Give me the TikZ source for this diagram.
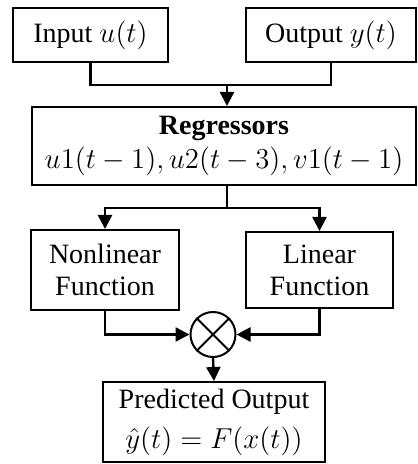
\documentclass[tikz,border=0pt]{standalone}
\usepackage{amsmath}
\usepackage{fontspec}
\setmainfont{Liberation Serif}
\usetikzlibrary{arrows.meta}
\usetikzlibrary{calc}

\tikzset{
blk/.style={draw, line width=1pt, align=center, inner sep=0pt, font=\fontsize{14}{16}\selectfont},
con/.style={line width=1.2pt},
arr/.style={con, -{Triangle[length=7pt,width=7pt]}}
}

\begin{document}
\begin{tikzpicture}[x=0.5pt,y=-0.5pt]
\useasboundingbox (0,0) rectangle (417,464);

\node[blk, minimum width=77.5pt, minimum height=27pt] (in) at (90.5,35) {Input \(u(t)\)};
\node[blk, minimum width=85pt, minimum height=27pt] (out) at (331,35) {Output \(y(t)\)};
\node[blk, minimum width=192pt, minimum height=39pt] (reg) at (224,146) {\textbf{Regressors}\\[1pt]\fontsize{15.5}{17}\selectfont\(u1(t-1), u2(t-3), v1(t-1)\)};
\node[blk, minimum width=74pt, minimum height=40pt] (nl) at (105,270) {Nonlinear\\Function};
\node[blk, minimum width=73.5pt, minimum height=38pt] (lin) at (319.5,270) {Linear\\Function};
\node[draw, circle, line width=1pt, minimum size=22.5pt, inner sep=0pt] (mult) at (213,334.5) {};
\draw[line width=1pt] (mult.north west) -- (mult.south east);
\draw[line width=1pt] (mult.north east) -- (mult.south west);
\node[blk, minimum width=111pt, minimum height=40pt] (pred) at (214,422) {Predicted Output\\[4pt]\fontsize{15}{17}\selectfont\(\hat{y}(t)=F(x(t))\)};

\coordinate (top) at (227,85);
\coordinate (split) at (227,208);

\draw[con] (in.south) |- (top) -| (out.south);
\draw[arr] (top) -- (top |- reg.north);
\draw[con] (split |- reg.south) -- (split);
\draw[arr] (split) -| (nl.north);
\draw[arr] (split) -| (lin.north);
\draw[arr] (nl.south) |- (mult.west);
\draw[arr] (lin.south) |- (mult.east);
\draw[arr] (mult.south) -- (pred.north);
\end{tikzpicture}
\end{document}
